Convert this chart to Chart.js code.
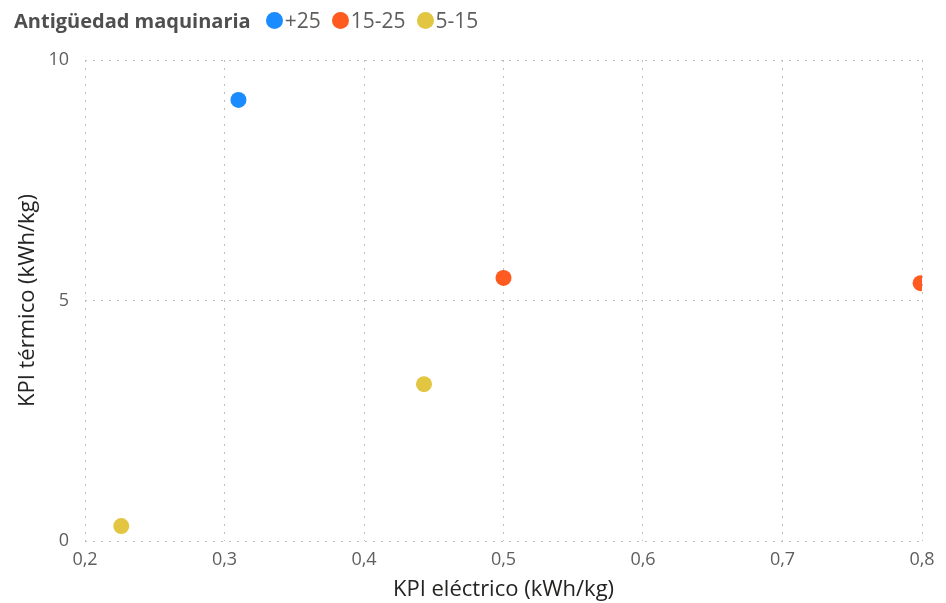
<!DOCTYPE html>
<html>
<head>
<meta charset="utf-8">
<script src="https://cdn.jsdelivr.net/npm/chart.js@4"></script>
<style>
  html, body { margin: 0; padding: 0; background: #fff; }
  #wrap { position: relative; width: 946px; height: 603px; }
  #legend {
    position: absolute; left: 14px; top: 6px; height: 28px;
    display: flex; align-items: center;
    font-family: "Open Sans", sans-serif; font-size: 21px; color: #605E5C;
  }
  #legend .title { font-weight: bold; font-size: 20px; color: #4f4f4f; margin-right: 15px; }
  #legend .item { display: flex; align-items: center; margin-right: 11px; }
  #legend .dot { width: 17px; height: 17px; border-radius: 50%; margin-right: 2px; }
</style>
</head>
<body>
<div id="wrap">
  <div id="legend"></div>
  <canvas id="myChart" width="946" height="603"></canvas>
</div>
<script>
// age groups of the machinery
const groups = ['+25', '15-25', '5-15'];
const groupColors = ['#1A8CFF', '#FF5A1F', '#E2C541'];

// electric KPI (x) and thermal KPI (y) per machine, kWh/kg
const kpiElectrico = [
  [0.31],
  [0.50, 0.799],
  [0.443, 0.226]
];
const kpiTermico = [
  [9.17],
  [5.47, 5.36],
  [3.26, 0.31]
];

const xTicks = [0.2, 0.3, 0.4, 0.5, 0.6, 0.7, 0.8];
const yTicks = [0, 5, 10];

const font = 'Open Sans';
const gridColor = '#bfbdbb';

const datasets = groups.map((g, i) => ({
  label: g,
  data: kpiElectrico[i].map((x, j) => ({ x: x, y: kpiTermico[i][j] })),
  backgroundColor: groupColors[i],
  borderColor: groupColors[i],
  pointRadius: 8,
  pointHoverRadius: 8,
  borderWidth: 0,
  clip: 0
}));

const ctx = document.getElementById('myChart').getContext('2d');
const chart = new Chart(ctx, {
  type: 'scatter',
  data: { datasets: datasets },
  options: {
    responsive: false,
    animation: false,
    layout: { padding: { top: 60, right: 24, left: 0, bottom: 0 } },
    plugins: {
      legend: { display: false },
      tooltip: { enabled: false }
    },
    scales: {
      x: {
        type: 'linear',
        min: xTicks[0],
        max: xTicks[xTicks.length - 1],
        afterBuildTicks: s => { s.ticks = xTicks.map(v => ({ value: v })); },
        afterFit: s => { s.height = 62; },
        border: { display: false, dash: [2, 6] },
        grid: { color: gridColor, drawTicks: false },
        ticks: {
          padding: 8,
          color: '#605E5C',
          font: { family: font, size: 18 },
          callback: v => v.toFixed(1).replace('.', ',')
        },
        title: {
          display: true,
          text: 'KPI eléctrico (kWh/kg)',
          color: '#252423',
          font: { family: font, size: 22 },
          padding: { top: 0, bottom: 0 }
        }
      },
      y: {
        type: 'linear',
        min: yTicks[0],
        max: yTicks[yTicks.length - 1],
        afterBuildTicks: s => { s.ticks = yTicks.map(v => ({ value: v })); },
        afterFit: s => { s.width = 85; },
        border: { display: false, dash: [2, 6] },
        grid: { color: gridColor, drawTicks: false },
        ticks: {
          padding: 16,
          color: '#605E5C',
          font: { family: font, size: 18 },
          callback: v => String(v)
        },
        title: {
          display: true,
          text: 'KPI térmico (kWh/kg)',
          color: '#252423',
          font: { family: font, size: 22 },
          padding: { top: 15, bottom: 0 }
        }
      }
    }
  }
});

// legend row: title followed by one dot per group
const legend = document.getElementById('legend');
const title = document.createElement('span');
title.className = 'title';
title.textContent = 'Antigüedad maquinaria';
legend.appendChild(title);
chart.data.datasets.forEach(ds => {
  const item = document.createElement('span');
  item.className = 'item';
  const dot = document.createElement('span');
  dot.className = 'dot';
  dot.style.background = ds.backgroundColor;
  const txt = document.createElement('span');
  txt.textContent = ds.label;
  item.appendChild(dot);
  item.appendChild(txt);
  legend.appendChild(item);
});
</script>
</body>
</html>
